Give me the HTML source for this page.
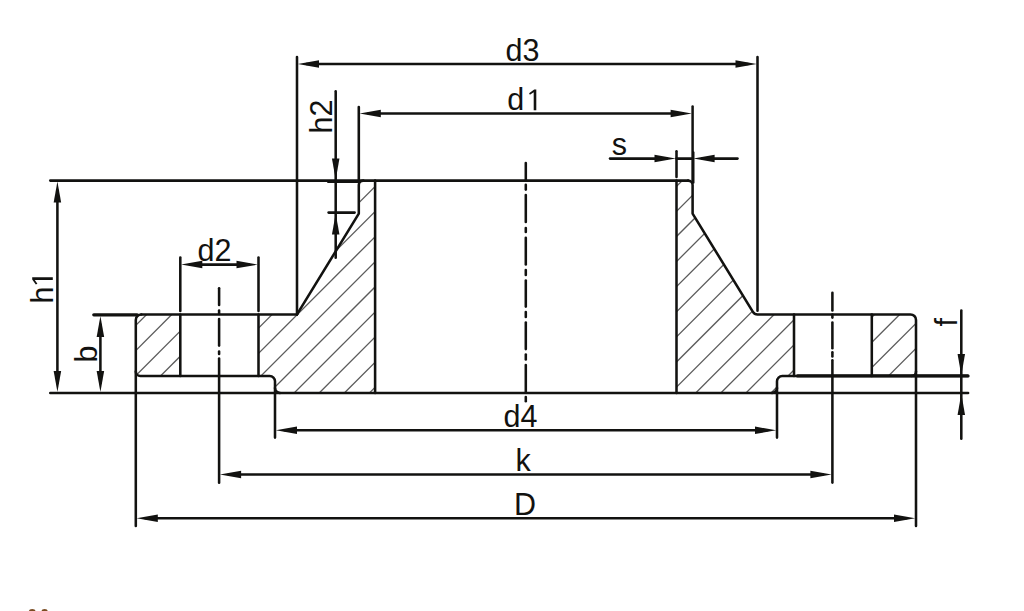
<!DOCTYPE html>
<html><head><meta charset="utf-8"><title>Weld neck flange</title>
<style>
html,body{margin:0;padding:0;background:#fff;}
body{width:1024px;height:611px;overflow:hidden;}
svg{display:block;}
text{font-family:"Liberation Sans",sans-serif;font-size:30.5px;fill:#121210;}
</style></head>
<body>
<svg width="1024" height="611" viewBox="0 0 1024 611">
<rect width="1024" height="611" fill="#fff"/>
<defs>
<clipPath id="hc"><path d="M258.5,314.4 L297.0,314.4 L358.8,213.6 L358.8,185.1 A4.5,4.5 0 0 1 363.3,180.6 L375.1,180.6 L375.1,392.9 L280.0,392.9 A5.0,5.0 0 0 1 275.0,387.9 L275.0,381.3 A5.3,5.3 0 0 0 269.7,376.0 L258.5,376.0 Z"/><path d="M794.0,314.4 L757.5,314.4 Q754.5,314.4 752.9,311.79999999999995 L692.6,213.6 L692.6,185.1 A4.5,4.5 0 0 0 688.1,180.6 L676.5,180.6 L676.5,392.9 L772.0,392.9 A5.0,5.0 0 0 0 777.0,387.9 L777.0,381.3 A5.3,5.3 0 0 1 782.3,376.0 L794.0,376.0 Z"/><path d="M180.3,314.4 L141.3,314.4 A5.5,5.5 0 0 0 135.8,319.9 L135.8,371.5 A4.5,4.5 0 0 0 140.3,376.0 L180.3,376.0 Z"/><path d="M871.8,314.4 L910.5,314.4 A5.5,5.5 0 0 1 916.0,319.9 L916.0,371.5 A4.5,4.5 0 0 1 911.5,376.0 L871.8,376.0 Z"/></clipPath>
</defs>
<g clip-path="url(#hc)" stroke="#5a5a5a" stroke-width="1.3">
<line x1="-9.00" y1="420" x2="261.00" y2="150"/>
<line x1="16.10" y1="420" x2="286.10" y2="150"/>
<line x1="41.20" y1="420" x2="311.20" y2="150"/>
<line x1="66.30" y1="420" x2="336.30" y2="150"/>
<line x1="91.40" y1="420" x2="361.40" y2="150"/>
<line x1="116.50" y1="420" x2="386.50" y2="150"/>
<line x1="141.60" y1="420" x2="411.60" y2="150"/>
<line x1="166.70" y1="420" x2="436.70" y2="150"/>
<line x1="191.80" y1="420" x2="461.80" y2="150"/>
<line x1="216.90" y1="420" x2="486.90" y2="150"/>
<line x1="242.00" y1="420" x2="512.00" y2="150"/>
<line x1="267.10" y1="420" x2="537.10" y2="150"/>
<line x1="292.20" y1="420" x2="562.20" y2="150"/>
<line x1="317.30" y1="420" x2="587.30" y2="150"/>
<line x1="342.40" y1="420" x2="612.40" y2="150"/>
<line x1="367.50" y1="420" x2="637.50" y2="150"/>
<line x1="392.60" y1="420" x2="662.60" y2="150"/>
<line x1="417.70" y1="420" x2="687.70" y2="150"/>
<line x1="442.80" y1="420" x2="712.80" y2="150"/>
<line x1="467.90" y1="420" x2="737.90" y2="150"/>
<line x1="493.00" y1="420" x2="763.00" y2="150"/>
<line x1="518.10" y1="420" x2="788.10" y2="150"/>
<line x1="543.20" y1="420" x2="813.20" y2="150"/>
<line x1="568.30" y1="420" x2="838.30" y2="150"/>
<line x1="593.40" y1="420" x2="863.40" y2="150"/>
<line x1="618.50" y1="420" x2="888.50" y2="150"/>
<line x1="643.60" y1="420" x2="913.60" y2="150"/>
<line x1="668.70" y1="420" x2="938.70" y2="150"/>
<line x1="693.80" y1="420" x2="963.80" y2="150"/>
<line x1="718.90" y1="420" x2="988.90" y2="150"/>
<line x1="744.00" y1="420" x2="1014.00" y2="150"/>
<line x1="769.10" y1="420" x2="1039.10" y2="150"/>
<line x1="794.20" y1="420" x2="1064.20" y2="150"/>
<line x1="819.30" y1="420" x2="1089.30" y2="150"/>
<line x1="844.40" y1="420" x2="1114.40" y2="150"/>
<line x1="869.50" y1="420" x2="1139.50" y2="150"/>
</g>
<g stroke="#121210" stroke-width="2.55" fill="none" stroke-linecap="round" stroke-linejoin="round">
<line x1="50.3" y1="180.6" x2="688.1" y2="180.6"/>
<path d="M688.1,180.6 A4.5,4.5 0 0 1 692.6,185.1 L692.6,213.6 L752.9,311.79999999999995 Q754.5,314.4 757.5,314.4 L910.5,314.4 A5.5,5.5 0 0 1 916.0,319.9 L916.0,526.0" fill="none"/>
<path d="M916.0,371.5 A4.5,4.5 0 0 1 911.5,376.0" fill="none"/>
<path d="M363.3,180.6 A4.5,4.5 0 0 0 358.8,185.1 L358.8,213.6 L297.0,314.4" fill="none"/>
<line x1="93.8" y1="314.8" x2="137.2" y2="314.8" stroke-width="3.3"/>
<line x1="141.3" y1="314.4" x2="297.0" y2="314.4"/>
<path d="M141.3,314.4 A5.5,5.5 0 0 0 135.8,319.9 L135.8,526.0" fill="none"/>
<path d="M135.8,371.5 A4.5,4.5 0 0 0 140.3,376.0 L269.7,376.0 A5.3,5.3 0 0 1 275.0,381.3 L275.0,437.6" fill="none"/>
<path d="M275.0,387.9 A5.0,5.0 0 0 0 280.0,392.9" fill="none"/>
<path d="M968.1,376.0 L782.3,376.0 A5.3,5.3 0 0 0 777.0,381.3 L777.0,437.6" fill="none"/>
<path d="M777.0,387.9 A5.0,5.0 0 0 1 772.0,392.9" fill="none"/>
<line x1="797.5" y1="375.9" x2="967.9" y2="375.9" stroke-width="3.2"/>
<line x1="50.3" y1="392.9" x2="968.1" y2="392.9"/>
<line x1="375.1" y1="180.6" x2="375.1" y2="392.9"/>
<line x1="676.5" y1="180.6" x2="676.5" y2="392.9"/>
<line x1="676.5" y1="151.2" x2="676.5" y2="177.0"/>
<line x1="180.3" y1="257.6" x2="180.3" y2="311.0"/>
<line x1="258.5" y1="257.6" x2="258.5" y2="311.0"/>
<line x1="180.3" y1="314.4" x2="180.3" y2="376.0"/>
<line x1="258.5" y1="314.4" x2="258.5" y2="376.0"/>
<line x1="794.0" y1="314.4" x2="794.0" y2="376.0"/>
<line x1="871.8" y1="314.4" x2="871.8" y2="376.0"/>
<line x1="297.0" y1="57.1" x2="297.0" y2="314.4"/>
<line x1="757.5" y1="57.1" x2="757.5" y2="310.8"/>
<line x1="358.8" y1="107" x2="358.8" y2="182" stroke-width="2.6"/>
<line x1="692.6" y1="106.6" x2="692.6" y2="182" stroke-width="2.5"/>
<line x1="693.3000000000001" y1="152.5" x2="693.3000000000001" y2="182.5" stroke-width="2.4"/>
<line x1="335.7" y1="91.2" x2="335.7" y2="257.8"/>
<line x1="328.6" y1="212.6" x2="354.6" y2="212.6"/>
<line x1="328" y1="181.6" x2="360" y2="181.6"/>
<line x1="57.4" y1="190.2" x2="57.4" y2="383.29999999999995"/>
<line x1="100.4" y1="324.40000000000003" x2="100.4" y2="383.29999999999995"/>
<line x1="961.3" y1="310.6" x2="961.3" y2="438.7"/>
<line x1="306.6" y1="64.0" x2="747.9" y2="64.0"/>
<line x1="368.40000000000003" y1="113.5" x2="683.0" y2="113.5"/>
<line x1="610.0" y1="158.6" x2="666.9" y2="158.6"/>
<line x1="702.2" y1="158.6" x2="737.5" y2="158.6"/>
<line x1="676.5" y1="158.6" x2="692.6" y2="158.6"/>
<line x1="189.9" y1="264.6" x2="248.9" y2="264.6"/>
<line x1="284.6" y1="430.3" x2="767.4" y2="430.3"/>
<line x1="228.7" y1="474.4" x2="822.8" y2="474.4"/>
<line x1="145.4" y1="518.2" x2="906.4" y2="518.2"/>
<line x1="219.1" y1="358.4" x2="219.1" y2="482.8"/>
<line x1="832.4" y1="360.2" x2="832.4" y2="482.6"/>
<line x1="219.1" y1="288.3" x2="219.1" y2="305.0"/>
<line x1="219.1" y1="310.6" x2="219.1" y2="313.9"/>
<line x1="219.1" y1="318.90000000000003" x2="219.1" y2="345.59999999999997"/>
<line x1="219.1" y1="351.40000000000003" x2="219.1" y2="353.9"/>
<line x1="832.4" y1="292.8" x2="832.4" y2="310.4"/>
<line x1="832.4" y1="314.40000000000003" x2="832.4" y2="317.59999999999997"/>
<line x1="832.4" y1="322.5" x2="832.4" y2="348.29999999999995"/>
<line x1="832.4" y1="352.3" x2="832.4" y2="356.4"/>
<line x1="525.8" y1="162.9" x2="525.8" y2="179.4"/>
<line x1="525.8" y1="184.79999999999998" x2="525.8" y2="189.6"/>
<line x1="525.8" y1="195.0" x2="525.8" y2="222.0"/>
<line x1="525.8" y1="228.1" x2="525.8" y2="231.9"/>
<line x1="525.8" y1="237.7" x2="525.8" y2="264.5"/>
<line x1="525.8" y1="269.90000000000003" x2="525.8" y2="274.9"/>
<line x1="525.8" y1="280.5" x2="525.8" y2="306.59999999999997"/>
<line x1="525.8" y1="312.0" x2="525.8" y2="316.9"/>
<line x1="525.8" y1="322.6" x2="525.8" y2="349.09999999999997"/>
<line x1="525.8" y1="354.5" x2="525.8" y2="359.5"/>
<line x1="525.8" y1="365.1" x2="525.8" y2="391.9"/>
<line x1="525.8" y1="397.1" x2="525.8" y2="401.2"/>
</g>
<g fill="#121210" stroke="none">
<polygon points="297.80,64.00 319.00,60.25 319.00,67.75"/>
<polygon points="756.70,64.00 735.50,60.25 735.50,67.75"/>
<polygon points="359.60,113.50 380.80,109.75 380.80,117.25"/>
<polygon points="691.80,113.50 670.60,109.75 670.60,117.25"/>
<polygon points="675.70,158.60 654.50,154.85 654.50,162.35"/>
<polygon points="693.40,158.60 714.60,154.85 714.60,162.35"/>
<polygon points="181.10,264.60 202.30,260.85 202.30,268.35"/>
<polygon points="257.70,264.60 236.50,260.85 236.50,268.35"/>
<polygon points="335.70,179.80 331.95,158.60 339.45,158.60"/>
<polygon points="335.70,213.40 331.95,234.60 339.45,234.60"/>
<polygon points="57.40,181.40 53.65,202.60 61.15,202.60"/>
<polygon points="57.40,392.10 53.65,370.90 61.15,370.90"/>
<polygon points="100.40,315.90 96.65,337.10 104.15,337.10"/>
<polygon points="100.40,392.10 96.65,370.90 104.15,370.90"/>
<polygon points="961.30,375.20 957.55,354.00 965.05,354.00"/>
<polygon points="961.30,393.70 957.55,414.90 965.05,414.90"/>
<polygon points="275.80,430.30 297.00,426.55 297.00,434.05"/>
<polygon points="776.20,430.30 755.00,426.55 755.00,434.05"/>
<polygon points="219.90,474.40 241.10,470.65 241.10,478.15"/>
<polygon points="831.60,474.40 810.40,470.65 810.40,478.15"/>
<polygon points="136.60,518.20 157.80,514.45 157.80,521.95"/>
<polygon points="915.20,518.20 894.00,514.45 894.00,521.95"/>
</g>
<g>
<polygon fill="#121210" points="533.70,110.20 536.30,110.20 536.30,89.60 534.20,89.60 529.10,93.20 529.90,94.80 533.70,92.20"/>
<polygon fill="#121210" points="52.80,279.90 52.80,277.30 32.20,277.30 32.20,279.40 35.80,284.50 37.40,283.70 34.80,279.90"/>
<text x="505.5" y="60.5">d3</text>
<text x="507.3" y="110.2">d</text>
<text x="611.8" y="154.9">s</text>
<text x="197.5" y="260.5">d2</text>
<text x="503.5" y="426.6">d4</text>
<text x="515.5" y="470.8">k</text>
<text x="514.0" y="514.6">D</text>
<text transform="translate(52.8,303.5) rotate(-90)">h</text>
<text transform="translate(331.9,133.4) rotate(-90)">h2</text>
<text transform="translate(96.6,362.5) rotate(-90)">b</text>
<text transform="translate(956.9,326.5) rotate(-90)">f</text>
</g>
<ellipse cx="32.2" cy="611.5" rx="3.4" ry="2.4" fill="#7a4c22"/>
<ellipse cx="44.6" cy="611.5" rx="3.2" ry="2.4" fill="#7a4c22"/>
</svg>
</body></html>
